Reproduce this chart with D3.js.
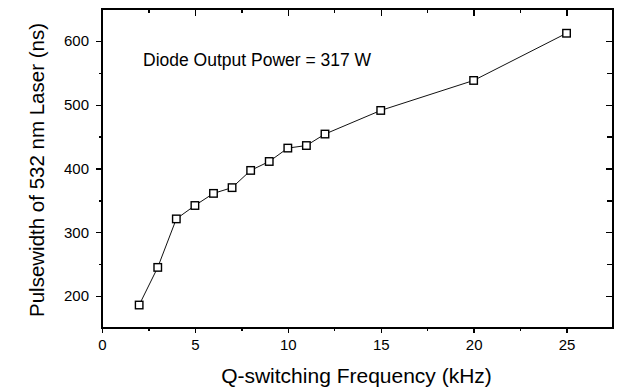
<!DOCTYPE html>
<html>
<head>
<meta charset="utf-8">
<script src="https://cdn.jsdelivr.net/npm/d3@7"></script>
<style>
  html, body { margin: 0; padding: 0; background: #fff; }
  svg { display: block; }
  text { font-family: "Liberation Sans", Arial, sans-serif; fill: #000; }
</style>
</head>
<body>
<svg id="chart" width="617" height="392"></svg>
<script>
const freqs = [2, 3, 4, 5, 6, 7, 8, 9, 10, 11, 12, 15, 20, 25];
const pulsewidths = [186, 245, 321, 342, 361, 370, 397, 411, 432, 436, 454, 491, 538, 612];
const xMajorTicks = [0, 5, 10, 15, 20, 25];
const xMinorTicks = [2.5, 7.5, 12.5, 17.5, 22.5];
const yMajorTicks = [200, 300, 400, 500, 600];
const yMinorTicks = [250, 350, 450, 550];
const xLabel = "Q-switching Frequency (kHz)";
const yLabel = "Pulsewidth of 532 nm Laser (ns)";
const annotation = "Diode Output Power = 317 W";

const svg = d3.select("#chart");
const L = 102, R = 613, T = 9, B = 328;
const x = d3.scaleLinear().domain([0, 27.5]).range([L, R]);
const y = d3.scaleLinear().domain([150, 650]).range([B, T]);

function styleAxis(g) {
  g.select(".domain").remove();
  g.selectAll("line").attr("stroke", "#000").attr("stroke-width", 1.3).attr("shape-rendering", "crispEdges");
  g.selectAll("text").style("font-size", "15px").style("font-family", "'Liberation Sans', Arial, sans-serif").attr("fill", "#000");
}

// bottom axis (outward)
svg.append("g").attr("transform", `translate(0,${B})`)
  .call(d3.axisBottom(x).tickValues(xMajorTicks).tickSize(5).tickPadding(6).tickFormat(d3.format("d")))
  .call(styleAxis);
svg.append("g").attr("transform", `translate(0,${B})`)
  .call(d3.axisBottom(x).tickValues(xMinorTicks).tickSize(3).tickFormat(""))
  .call(styleAxis);
// top axis (inward)
svg.append("g").attr("transform", `translate(0,${T})`)
  .call(d3.axisBottom(x).tickValues(xMajorTicks).tickSize(7).tickFormat(""))
  .call(styleAxis);
svg.append("g").attr("transform", `translate(0,${T})`)
  .call(d3.axisBottom(x).tickValues(xMinorTicks).tickSize(4).tickFormat(""))
  .call(styleAxis);
// left axis (outward)
svg.append("g").attr("transform", `translate(${L},0)`)
  .call(d3.axisLeft(y).tickValues(yMajorTicks).tickSize(6).tickPadding(7).tickFormat(d3.format("d")))
  .call(styleAxis);
svg.append("g").attr("transform", `translate(${L},0)`)
  .call(d3.axisLeft(y).tickValues(yMinorTicks).tickSize(3).tickFormat(""))
  .call(styleAxis);
// right axis (inward)
svg.append("g").attr("transform", `translate(${R},0)`)
  .call(d3.axisLeft(y).tickValues(yMajorTicks).tickSize(7).tickFormat(""))
  .call(styleAxis);
svg.append("g").attr("transform", `translate(${R},0)`)
  .call(d3.axisLeft(y).tickValues(yMinorTicks).tickSize(6).tickFormat(""))
  .call(styleAxis);

// frame
svg.append("rect").attr("x", L).attr("y", T).attr("width", R - L).attr("height", B - T)
  .attr("fill", "none").attr("stroke", "#000").attr("stroke-width", 1.6)
  .attr("shape-rendering", "crispEdges");

// data line
const data = freqs.map((f, i) => ({ f, p: pulsewidths[i] }));
svg.append("path").datum(data)
  .attr("fill", "none").attr("stroke", "#111").attr("stroke-width", 1)
  .attr("d", d3.line().x(d => x(d.f)).y(d => y(d.p)));

// markers
const s = 7.5;
svg.selectAll("rect.pt").data(data).join("rect").attr("class", "pt")
  .attr("x", d => x(d.f) - s / 2).attr("y", d => y(d.p) - s / 2)
  .attr("width", s).attr("height", s)
  .attr("fill", "#fff").attr("stroke", "#000").attr("stroke-width", 1.4);

// labels
svg.append("text").attr("x", (218 + 495) / 2).attr("y", 383)
  .attr("text-anchor", "middle").style("font-size", "21px").text(xLabel);
svg.append("text").attr("transform", "rotate(-90)").attr("x", -170).attr("y", 44)
  .attr("text-anchor", "middle").style("font-size", "20.5px").text(yLabel);
svg.append("text").attr("x", 143).attr("y", 66)
  .style("font-size", "17.5px").text(annotation);
</script>
</body>
</html>
